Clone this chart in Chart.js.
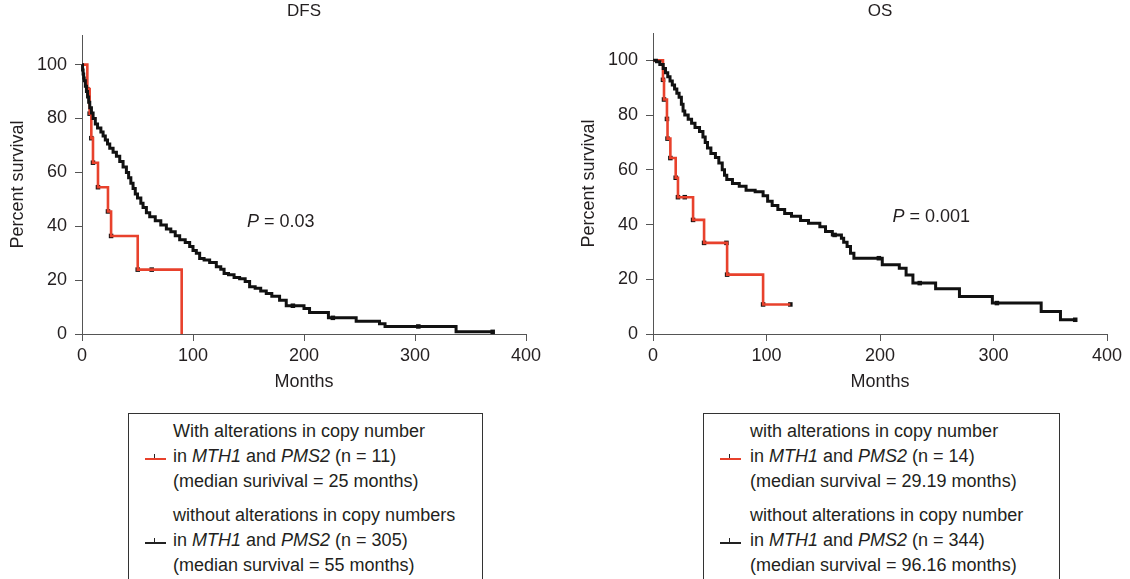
<!DOCTYPE html>
<html><head><meta charset="utf-8">
<script src="https://cdn.jsdelivr.net/npm/chart.js@4.4.0/dist/chart.umd.min.js"></script>
<style>
html,body{margin:0;padding:0;background:#fff;width:1130px;height:579px;overflow:hidden;font-family:"Liberation Sans",Arial,sans-serif;color:#231f20}
#c1{position:absolute;left:0;top:0}
#c2{position:absolute;left:571px;top:0}
.lg{position:absolute;top:413px;height:200px;border:1px solid #333;box-sizing:border-box;font-size:18px;line-height:25px}
.grp{position:absolute;left:0;right:0}
.ln{white-space:nowrap}
.sym{position:absolute;width:21px;height:1.5px}
.sym i{position:absolute;left:9px;top:-4px;width:1px;height:4px;background:#222}
</style></head>
<body>
<canvas id="c1" width="560" height="400"></canvas>
<canvas id="c2" width="559" height="400"></canvas>

<div class="lg" style="left:128px;width:355px">
  <div class="grp" style="top:4.5px;left:44px">
    <div class="ln">With alterations in copy number</div>
    <div class="ln">in <i>MTH1</i> and <i>PMS2</i> (n = 11)</div>
    <div class="ln">(median surivival = 25 months)</div>
  </div>
  <div class="sym" style="left:16px;top:44px;background:#e8412c"><i></i></div>
  <div class="grp" style="top:88.5px;left:44px">
    <div class="ln">without alterations in copy numbers</div>
    <div class="ln">in <i>MTH1</i> and <i>PMS2</i> (n = 305)</div>
    <div class="ln">(median survival = 55 months)</div>
  </div>
  <div class="sym" style="left:16px;top:128px;background:#222"><i></i></div>
</div>

<div class="lg" style="left:703px;width:357px">
  <div class="grp" style="top:4.5px;left:46px">
    <div class="ln">with alterations in copy number</div>
    <div class="ln">in <i>MTH1</i> and <i>PMS2</i> (n = 14)</div>
    <div class="ln">(median survival = 29.19 months)</div>
  </div>
  <div class="sym" style="left:16px;top:44px;background:#e8412c"><i></i></div>
  <div class="grp" style="top:88.5px;left:46px">
    <div class="ln">without alterations in copy number</div>
    <div class="ln">in <i>MTH1</i> and <i>PMS2</i> (n = 344)</div>
    <div class="ln">(median survival = 96.16 months)</div>
  </div>
  <div class="sym" style="left:16px;top:128px;background:#222"><i></i></div>
</div>

<script>
// ---------- DATA ----------
const xTicks = [0, 100, 200, 300, 400];
const yTicks = [0, 20, 40, 60, 80, 100];

// DFS, with alterations (red)
const dfsRedTime = [0, 4.8, 6.9, 8.4, 9.9, 14.4, 23.4, 26.2, 50.2, 89.8];
const dfsRedSurv = [100, 90.9, 81.8, 72.7, 63.6, 54.5, 45.5, 36.4, 23.9, 0];
const dfsRedCensorTime = [4.8, 6.9, 8.4, 9.9, 14.4, 23.4, 26.2, 50.2, 62.8];
const dfsRedCensorSurv = [90.9, 81.8, 72.7, 63.6, 54.5, 45.5, 36.4, 23.9, 23.9];

// DFS, without alterations (black)
const dfsBlackTime = [0, 0.5, 1, 1.5, 2, 3, 4, 5, 6, 7, 8.5, 10, 12, 14, 17, 19, 21, 23, 25, 28, 31, 34, 37, 40, 42, 44, 46, 48, 50, 53, 55, 58, 61, 66, 71, 76, 80, 84, 88, 93, 97, 100, 103, 106, 110, 115, 121, 125, 128, 132, 137, 142, 147, 151, 156, 161, 166, 171, 178, 184, 200, 205, 222, 247, 268, 273, 337, 370];
const dfsBlackSurv = [100, 98, 96.5, 95, 94, 92, 90, 88, 86, 84, 82, 80, 78, 76.5, 75, 73.5, 72, 70.5, 69, 67.5, 66, 64, 62, 60, 58, 56, 54, 52, 50.5, 48.5, 47, 45, 43.5, 42, 40.5, 39, 38, 36.5, 35, 34, 32.5, 31, 30, 28, 27.5, 26.5, 25, 24, 22.5, 22, 21, 20.5, 19.5, 17.5, 17, 16, 15, 14, 12.5, 10.5, 9.5, 8, 6, 4.7, 3.8, 2.8, 0.8, 0.8];
const dfsBlackCensorTime = [190, 226, 303, 370];
const dfsBlackCensorSurv = [10.5, 6, 2.8, 0.8];

// OS, with alterations (red)
const osRedTime = [0, 8.8, 9.7, 12.3, 12.8, 15.3, 20, 22, 35.3, 45, 65.3, 97, 121];
const osRedSurv = [100, 92.9, 85.7, 78.6, 71.4, 64.3, 57.1, 50, 41.7, 33.3, 21.7, 10.8, 10.8];
const osRedCensorTime = [8.8, 9.7, 12.3, 12.8, 15.3, 20, 22, 28, 35.3, 45, 64.7, 65.3, 97, 121];
const osRedCensorSurv = [92.9, 85.7, 78.6, 71.4, 64.3, 57.1, 50, 50, 41.7, 33.3, 33.3, 21.7, 10.8, 10.8];

// OS, without alterations (black)
const osBlackTime = [0, 3, 6, 9, 11, 13, 15, 17, 19, 21, 23, 25, 26.5, 28, 31, 34, 37, 41, 44, 46, 48, 51, 55, 58, 61, 63, 65, 70, 76, 82, 90, 97, 101, 105, 110, 116, 122, 130, 137, 147, 152, 158, 166, 168, 171, 174, 177, 202, 217, 223, 229, 249, 270, 299, 342, 359, 372];
const osBlackSurv = [100, 99.5, 98.5, 97, 95.5, 94, 92.5, 91, 89.5, 88, 86.5, 84, 81.5, 80, 78.5, 77, 75.5, 74, 72, 70, 68, 66, 64.5, 62.5, 60, 58, 56.5, 55, 54, 52.5, 52, 50.5, 48.5, 47, 45.5, 44, 43, 41.5, 40.5, 39.2, 37.5, 36.2, 35, 33.5, 32, 29.5, 27.7, 25.3, 24, 21.6, 18.6, 16.5, 13.7, 11.3, 8.2, 5.2, 5.2];
const osBlackCensorTime = [160, 199, 235, 303, 372];
const osBlackCensorSurv = [36.2, 27.7, 18.6, 11.3, 5.2];

const RED = '#e8412c';
const BLACK = '#111111';
const FONT = '"Liberation Sans", Arial, sans-serif';

function pts(t, s) { return t.map((x, i) => ({ x: x, y: s[i] })); }

const decor = {
  id: 'decor',
  afterDraw(chart, args, o) {
    const ctx = chart.ctx, ca = chart.chartArea;
    ctx.save();
    ctx.fillStyle = '#231f20';
    ctx.font = '17px ' + FONT;
    ctx.textAlign = 'center';
    ctx.textBaseline = 'middle';
    ctx.fillText(o.title, (ca.left + ca.right) / 2, 11);
    const px = chart.scales.x.getPixelForValue(o.px);
    const py = chart.scales.y.getPixelForValue(o.py);
    ctx.textAlign = 'left';
    ctx.font = 'italic 18px ' + FONT;
    ctx.fillText('P', px, py);
    const w = ctx.measureText('P').width;
    ctx.font = '18px ' + FONT;
    ctx.fillText(' = ' + o.pval, px + w, py);
    ctx.restore();
  }
};

function makeChart(id, cfg) {
  const lineDs = (data, color, w) => ({
    type: 'line', data: data, borderColor: color, borderWidth: w,
    stepped: 'before', pointRadius: 0, fill: false, clip: 6
  });
  const markDs = (data) => ({
    type: 'scatter', data: data, showLine: false, pointStyle: 'rect',
    pointRadius: 3.2, pointBackgroundColor: BLACK, pointBorderWidth: 0, clip: 6
  });
  new Chart(document.getElementById(id), {
    type: 'line',
    data: {
      datasets: [
        lineDs(cfg.black, BLACK, 3),
        lineDs(cfg.red, RED, 2.6),
        markDs(cfg.blackMarks),
        markDs(cfg.redMarks)
      ]
    },
    plugins: [decor],
    options: {
      responsive: false, animation: false, devicePixelRatio: 1,
      layout: { padding: { top: cfg.top, right: cfg.right, left: 0, bottom: 0 } },
      plugins: {
        legend: { display: false }, tooltip: { enabled: false },
        decor: { title: cfg.title, px: cfg.px, py: cfg.py, pval: cfg.pval }
      },
      scales: {
        x: {
          type: 'linear', min: 0, max: 400,
          afterFit(s) { s.height = 66; },
          afterBuildTicks(s) { s.ticks = xTicks.map(v => ({ value: v })); },
          grid: { drawOnChartArea: false, drawTicks: true, tickLength: 7, color: '#555' },
          border: { display: true, color: '#555', width: 1 },
          ticks: { font: { family: FONT, size: 18 }, color: '#231f20', padding: 4, maxRotation: 0 },
          title: { display: true, text: 'Months', font: { family: FONT, size: 18 }, color: '#231f20', padding: { top: 0, bottom: 7 } }
        },
        y: {
          type: 'linear', min: 0, max: cfg.ymax,
          afterFit(s) { s.width = 82; },
          afterBuildTicks(s) { s.ticks = yTicks.map(v => ({ value: v })); },
          grid: { drawOnChartArea: false, drawTicks: true, tickLength: 7, color: '#555' },
          border: { display: true, color: '#555', width: 1 },
          ticks: { font: { family: FONT, size: 18 }, color: '#231f20', padding: 8 },
          title: { display: true, text: 'Percent survival', font: { family: FONT, size: 18 }, color: '#231f20', padding: { top: 7, bottom: 0 } }
        }
      }
    }
  });
}

makeChart('c1', {
  title: 'DFS', pval: '0.03', px: 148.6, py: 41.6, ymax: 111, top: 35, right: 34,
  red: pts(dfsRedTime, dfsRedSurv), black: pts(dfsBlackTime, dfsBlackSurv),
  redMarks: pts(dfsRedCensorTime, dfsRedCensorSurv), blackMarks: pts(dfsBlackCensorTime, dfsBlackCensorSurv)
});
makeChart('c2', {
  title: 'OS', pval: '0.001', px: 211, py: 42.9, ymax: 110, top: 33, right: 23,
  red: pts(osRedTime, osRedSurv), black: pts(osBlackTime, osBlackSurv),
  redMarks: pts(osRedCensorTime, osRedCensorSurv), blackMarks: pts(osBlackCensorTime, osBlackCensorSurv)
});
</script>
</body></html>
